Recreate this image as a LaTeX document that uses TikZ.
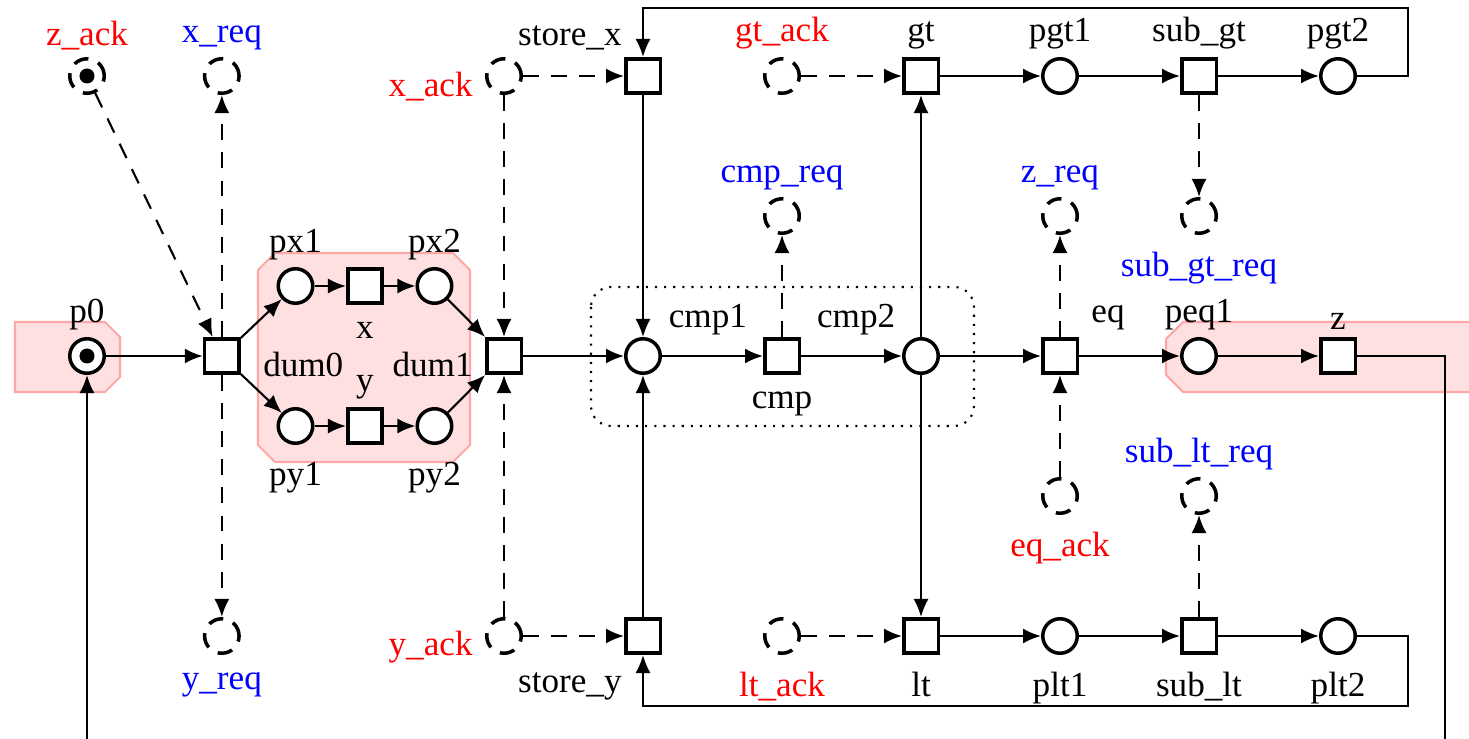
\documentclass[tikz,border=0pt]{standalone}
\usepackage{fontspec}
\setmainfont{Liberation Serif}
\usetikzlibrary{arrows.meta,calc}

\begin{document}
\begin{tikzpicture}[x=0.695cm, y=0.7cm,
  place/.style={circle, draw, line width=1pt, fill=white, minimum size=3.45mm, inner sep=0pt},
  trans/.style={rectangle, draw, line width=1pt, fill=white, minimum size=3.45mm, inner sep=0pt},
  ghost/.style={place, dash pattern=on 4.3pt off 3pt},
  tok/.style={path picture={\fill[black] (path picture bounding box.center) circle (0.75mm);}},
  arc/.style={-{Latex[length=1.8mm,width=1.5mm]}, line width=0.6pt},
  sig/.style={arc, dash pattern=on 4.5pt off 3.5pt},
  region/.style={fill=red!12, draw=red!35, line width=0.6pt},
  every label/.append style={yshift=-0.5mm}]

  \useasboundingbox (-0.87cm,-3.83cm) rectangle (13.82cm,3.56cm);

  % shaded regions
  \filldraw[region] (-0.72cm,0.34cm) -- (0.18cm,0.34cm) -- (0.33cm,0.19cm)
    -- (0.33cm,-0.21cm) -- (0.18cm,-0.36cm) -- (-0.72cm,-0.36cm) -- cycle;
  \filldraw[region] (1.71cm,0.86cm) -- (1.88cm,1.03cm) -- (3.66cm,1.03cm) -- (3.83cm,0.86cm)
    -- (3.83cm,-0.89cm) -- (3.66cm,-1.06cm) -- (1.88cm,-1.06cm) -- (1.71cm,-0.89cm) -- cycle;
  \filldraw[region] (14.2cm,0.34cm) -- (10.96cm,0.34cm) -- (10.79cm,0.17cm)
    -- (10.79cm,-0.19cm) -- (10.96cm,-0.36cm) -- (14.2cm,-0.36cm) -- cycle;
  \draw[dotted, line width=0.6pt, rounded corners=2mm] (5.04cm,0.69cm) rectangle (8.87cm,-0.70cm);

  % main row
  \node (p0)   [place, tok, label=above:p0] at (0,0) {};
  \node (t0)   [trans, label={[xshift=1mm,yshift=-0.3mm]right:dum0}] at (1.94,0) {};
  \node (px1)  [place, label=above:px1] at (3,1) {};
  \node (tx)   [trans, label=below:x] at (4,1) {};
  \node (px2)  [place, label=above:px2] at (5,1) {};
  \node (py1)  [place, label=below:py1] at (3,-1) {};
  \node (ty)   [trans, label=above:y] at (4,-1) {};
  \node (py2)  [place, label=below:py2] at (5,-1) {};
  \node (dum1) [trans, label={[yshift=-0.3mm]left:dum1}] at (6,0) {};
  \node (cmp1) [place, label=above right:cmp1] at (8,0) {};
  \node (cmp)  [trans, label=below:cmp] at (10,0) {};
  \node (cmp2) [place, label=above left:cmp2] at (12,0) {};
  \node (eq)   [trans, label=above right:eq] at (14,0) {};
  \node (peq1) [place, label=above:peq1] at (16,0) {};
  \node (z)    [trans, label=above:z] at (18,0) {};

  % top row
  \node (z_ack)   [ghost, tok, label={[red]above:z\_ack}] at (0,4) {};
  \node (x_req)   [ghost, label={[blue]above:x\_req}] at (1.94,4) {};
  \node (x_ack)   [ghost, label={[red,yshift=-0.6mm]left:x\_ack}] at (6,4) {};
  \node (store_x) [trans, label={[xshift=1mm]above left:store\_x}] at (8,4) {};
  \node (gt_ack)  [ghost, label={[red]above:gt\_ack}] at (10,4) {};
  \node (gt)      [trans, label=above:gt] at (12,4) {};
  \node (pgt1)    [place, label=above:pgt1] at (14,4) {};
  \node (sub_gt)  [trans, label=above:sub\_gt] at (16,4) {};
  \node (pgt2)    [place, label=above:pgt2] at (18,4) {};

  % bottom row
  \node (y_req)   [ghost, label={[blue]below:y\_req}] at (1.94,-4) {};
  \node (y_ack)   [ghost, label={[red,yshift=-0.6mm]left:y\_ack}] at (6,-4) {};
  \node (store_y) [trans, label={[xshift=1mm]below left:store\_y}] at (8,-4) {};
  \node (lt_ack)  [ghost, label={[red]below:lt\_ack}] at (10,-4) {};
  \node (lt)      [trans, label=below:lt] at (12,-4) {};
  \node (plt1)    [place, label=below:plt1] at (14,-4) {};
  \node (sub_lt)  [trans, label=below:sub\_lt] at (16,-4) {};
  \node (plt2)    [place, label=below:plt2] at (18,-4) {};

  % request / acknowledge places
  \node (cmp_req)    [ghost, label={[blue]above:cmp\_req}] at (10,2) {};
  \node (z_req)      [ghost, label={[blue]above:z\_req}] at (14,2) {};
  \node (sub_gt_req) [ghost, label={[blue]below:sub\_gt\_req}] at (16,2) {};
  \node (eq_ack)     [ghost, label={[red]below:eq\_ack}] at (14,-2) {};
  \node (sub_lt_req) [ghost, label={[blue]above:sub\_lt\_req}] at (16,-2) {};

  % arcs
  \draw[arc] (p0) -- (t0);
  \draw[arc] (t0) -- (px1);
  \draw[arc] (t0) -- (py1);
  \draw[arc] (px1) -- (tx);
  \draw[arc] (tx) -- (px2);
  \draw[arc] (py1) -- (ty);
  \draw[arc] (ty) -- (py2);
  \draw[arc] (px2) -- (dum1);
  \draw[arc] (py2) -- (dum1);
  \draw[arc] (dum1) -- (cmp1);
  \draw[arc] (store_x) -- (cmp1);
  \draw[arc] (store_y) -- (cmp1);
  \draw[arc] (cmp1) -- (cmp);
  \draw[arc] (cmp) -- (cmp2);
  \draw[arc] (cmp2) -- (gt);
  \draw[arc] (cmp2) -- (lt);
  \draw[arc] (cmp2) -- (eq);
  \draw[arc] (eq) -- (peq1);
  \draw[arc] (peq1) -- (z);
  \draw[arc] (gt) -- (pgt1);
  \draw[arc] (pgt1) -- (sub_gt);
  \draw[arc] (sub_gt) -- (pgt2);
  \draw[arc] (lt) -- (plt1);
  \draw[arc] (plt1) -- (sub_lt);
  \draw[arc] (sub_lt) -- (plt2);
  \draw[arc] (pgt2) -- ++(0.7cm,0) |- ($(store_x)+(0,0.68cm)$) -- (store_x);
  \draw[arc] (plt2) -- ++(0.7cm,0) |- ($(store_y)+(0,-0.7cm)$) -- (store_y);
  \coordinate (zout) at ($(z)+(1.07cm,-4.5cm)$);
  \coordinate (p0in) at ($(p0)+(0,-4.5cm)$);
  \draw[line width=0.6pt] (z) -| (zout);
  \draw[arc] (p0in) -- (p0);

  % handshake arcs
  \draw[sig] (z_ack) -- (t0);
  \draw[sig] (t0) -- (x_req);
  \draw[sig] (t0) -- (y_req);
  \draw[sig] (x_ack) -- (store_x);
  \draw[sig] (x_ack) -- (dum1);
  \draw[sig] (y_ack) -- (store_y);
  \draw[sig] (y_ack) -- (dum1);
  \draw[sig] (cmp) -- (cmp_req);
  \draw[sig] (gt_ack) -- (gt);
  \draw[sig] (lt_ack) -- (lt);
  \draw[sig] (eq) -- (z_req);
  \draw[sig] (eq_ack) -- (eq);
  \draw[sig] (sub_gt) -- (sub_gt_req);
  \draw[sig] (sub_lt) -- (sub_lt_req);
\end{tikzpicture}
\end{document}
